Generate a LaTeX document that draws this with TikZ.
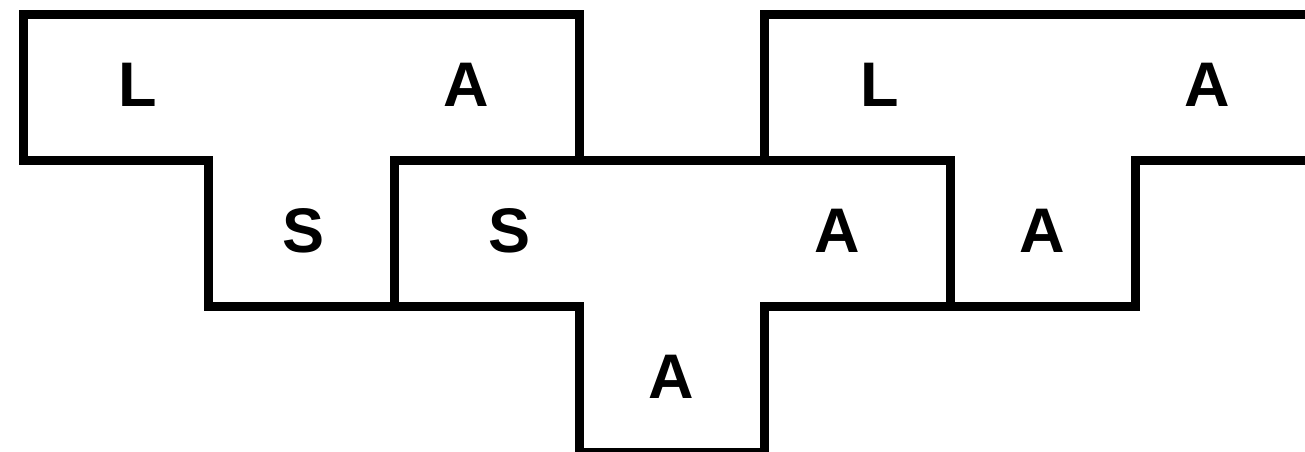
\documentclass[tikz,border=0pt]{standalone}
\usepackage{fontspec}
\setmainfont{Liberation Sans}
\begin{document}
\begin{tikzpicture}[x=1pt,y=-1pt,
  outline/.style={draw=black,line width=9pt,line join=miter},
  lbl/.style={font=\fontsize{63}{63}\selectfont\bfseries,inner sep=0pt,anchor=center}]
\useasboundingbox (0,0) rectangle (1305,451);
\clip (0,0) rectangle (1305,451);
\fill[white] (0,0) rectangle (1305,451);
% top-left T
\draw[outline] (23,14) -- (579,14) -- (579,160) -- (394,160) -- (394,306) -- (208,306) -- (208,160) -- (23,160) -- cycle;
% middle T
\draw[outline] (394,160) -- (950,160) -- (950,306) -- (764,306) -- (764,452) -- (579,452) -- (579,306) -- (394,306) -- cycle;
% top-right T
\draw[outline] (764,14) -- (1320,14) -- (1320,160) -- (1135,160) -- (1135,306) -- (950,306) -- (950,160) -- (764,160) -- cycle;
% labels
\node[lbl] (l1) at (138,85) {L};
\node[lbl] (a1) at (466,85) {A};
\node[lbl] (s1) at (304,231) {S};
\node[lbl] (s2) at (510,231) {S};
\node[lbl] (a2) at (837,231) {A};
\node[lbl] (a3) at (671,377) {A};
\node[lbl] (a4) at (1042,231) {A};
\node[lbl] (l2) at (880,85) {L};
\node[lbl] (a5) at (1207,85) {A};
\end{tikzpicture}
\end{document}
